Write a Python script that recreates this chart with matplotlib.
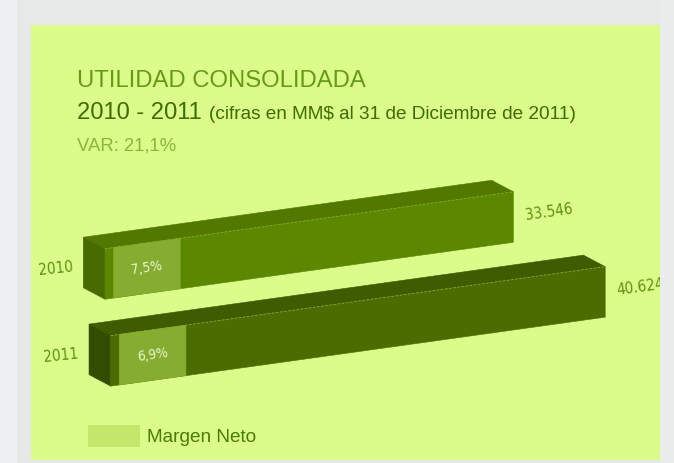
import os
import numpy as np
import matplotlib.pyplot as plt
from matplotlib import font_manager as fm
from matplotlib.patches import Polygon, Rectangle
from matplotlib.transforms import Affine2D

# data
years = ["2010", "2011"]
utilidad = [33546, 40624]          # MM$
margen = ["7,5%", "6,9%"]          # margen neto
value_labels = ["33.546", "40.624"]

W, H = 674, 463
GRAY = "#e7e8e8"
PANEL = "#dbfc8b"
TITLE_C = "#679a14"
DARK_C = "#3f6b00"
VAR_C = "#8ab63a"
LABEL_C = "#5f8f0c"
front_c = ["#5c8700", "#4b6c00"]
top_c = ["#527800", "#3f5c00"]
side_c = ["#476b00", "#334d00"]
BOX_C = "#86ad2f"
LEG_C = "#c3e66b"
SANS = "Liberation Sans"

# condensed face for the numbers (DejaVu Sans Condensed if present)
cond_file = next((f.fname for f in fm.fontManager.ttflist
                  if os.path.basename(f.fname) == "DejaVuSansCondensed.ttf"), None)

def narrow(size):
    if cond_file:
        return fm.FontProperties(fname=cond_file, size=size)
    return fm.FontProperties(family="DejaVu Sans", size=size * 0.9)

fig = plt.figure(figsize=(W / 100, H / 100), dpi=100, facecolor=GRAY)

def frect(x0, y0, x1, y1, **kw):
    # rectangle given in image pixels (origin top-left)
    r = Rectangle((x0 / W, 1 - y1 / H), (x1 - x0) / W, (y1 - y0) / H,
                  transform=fig.transFigure, lw=0, **kw)
    fig.patches.append(r)
    return r

frect(0, 0, 17, H, fc="#eef0f1", zorder=-2)
frect(31, 25, 660, 460, fc=PANEL, zorder=-1)
frect(660, 0, W, H, fc="#ebecec", zorder=10)   # covers label overflow

# header texts
fig.text(77 / W, 1 - 86.7 / H, "UTILIDAD CONSOLIDADA", fontsize=17.2,
         color=TITLE_C, va="baseline", family=SANS)
fig.text(77 / W, 1 - 119.3 / H, "2010 - 2011", fontsize=17.1,
         color=DARK_C, va="baseline", family=SANS)
fig.text(209 / W, 1 - 118.8 / H, "(cifras en MM$ al 31 de Diciembre de 2011)",
         fontsize=13.7, color=DARK_C, va="baseline", family=SANS)
fig.text(77 / W, 1 - 150.7 / H, "VAR: 21,1%", fontsize=13.3,
         color=VAR_C, va="baseline", family=SANS)

# bars: value axis skewed to fake the 3D perspective
ax = fig.add_axes([105 / W, 1 - 414.3 / H, 608.6 / W, 192.9 / H])
ax.set_xlim(0, 50000)
ax.set_ylim(1.6, -0.6)
ax.axis("off")

SLOPE = 0.1395
ANG = np.degrees(np.arctan(SLOPE))
x0 = ax.transData.transform((0, 0))[0]
trans = ax.transData + Affine2D().translate(-x0, 0).skew(0, np.arctan(SLOPE)).translate(x0, 0)

BAR_H = 0.576
DV, DR = -1783, -0.166      # depth of the box
ROW_SHIFT = 470             # perspective drift per row
INSET, BOXW = 700, 5480     # margin box

def poly(pts, fc, z=2):
    ax.add_patch(Polygon(pts, closed=True, fc=fc, ec=fc, lw=0.4,
                         transform=trans, clip_on=False, zorder=z))

for i, (yr, val) in enumerate(zip(years, utilidad)):
    v0 = i * ROW_SHIFT
    v1 = v0 + val
    yt, yb = i - BAR_H / 2, i + BAR_H / 2
    poly([(v0, yt), (v1, yt), (v1 + DV, yt + DR), (v0 + DV, yt + DR)], top_c[i])
    poly([(v0, yt), (v0, yb), (v0 + DV, yb + DR), (v0 + DV, yt + DR)], side_c[i])
    poly([(v0, yt), (v1, yt), (v1, yb), (v0, yb)], front_c[i])
    b0 = v0 + INSET
    poly([(b0, yt), (b0 + BOXW, yt), (b0 + BOXW, yb), (b0, yb)], BOX_C, z=3)
    ax.plot([v0, v1], [yt, yt], transform=trans, color="#86ad2a", lw=0.6,
            dashes=(3, 2), clip_on=False, zorder=4)

    ax.text(b0 + BOXW / 2, i, margen[i], transform=trans, ha="center", va="center",
            rotation=ANG, rotation_mode="anchor", fontproperties=narrow(9.8),
            color="#eaf5d0", zorder=5)
    ax.text(v1 + 950, i, value_labels[i], transform=trans, ha="left", va="center",
            rotation=ANG, rotation_mode="anchor", fontproperties=narrow(11),
            color=LABEL_C, zorder=5)
    ax.text(v0 + DV - 870, i + 0.8 * DR, yr, transform=trans, ha="right", va="center",
            rotation=6, rotation_mode="anchor", fontproperties=narrow(11),
            color=LABEL_C, zorder=5)

# legend
frect(87.7, 425, 140, 446.7, fc=LEG_C, zorder=1)
fig.text(146.7 / W, 1 - 441.7 / H, "Margen Neto", fontsize=13.7,
         color="#4c7a06", va="baseline", family=SANS)

fig.savefig("out.png", dpi=100, facecolor=GRAY)
